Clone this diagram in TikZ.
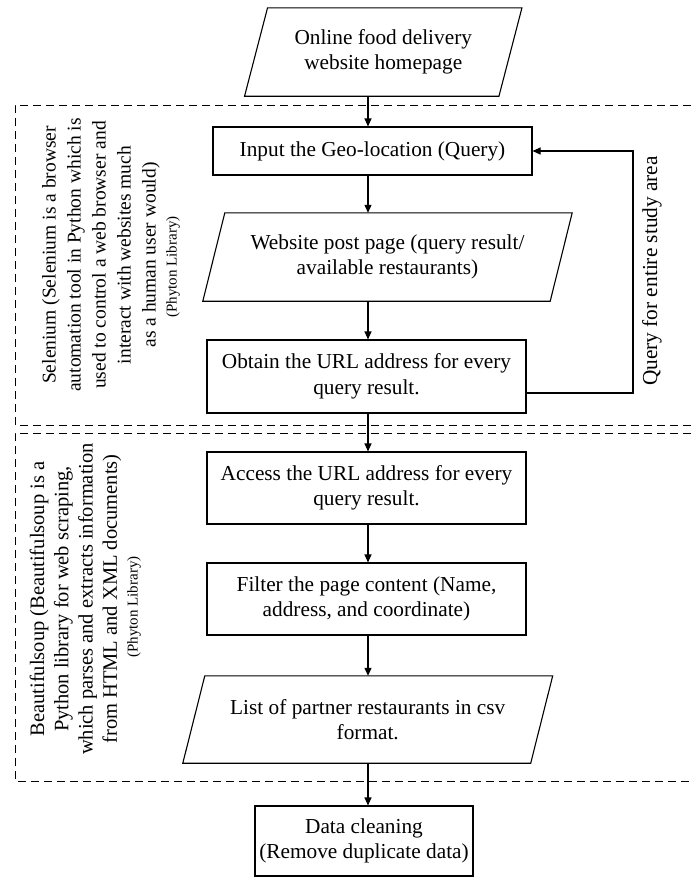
\documentclass[tikz,border=0pt]{standalone}
\usepackage{fontspec}
\setmainfont{Liberation Serif}
\usetikzlibrary{arrows.meta,calc}
\begin{document}
\begin{tikzpicture}[x=1pt,y=-1pt,
  box/.style={draw, line width=1.1pt, align=center, inner sep=0pt, font=\fontsize{21.3}{25.5}\selectfont, minimum width=319pt},
  iobox/.style={align=center, inner sep=0pt, font=\fontsize{21.3}{25.5}\selectfont},
  para/.style={line width=1.1pt, line join=miter},
  arr/.style={line width=1.1pt, -{Triangle[length=8pt,width=7pt]}},
  grp/.style={dash pattern=on 8pt off 5pt, line width=1pt},
  side/.style={rotate=90, align=center, inner sep=0pt, font=\fontsize{19.5}{25}\selectfont},
  sideb/.style={rotate=90, align=center, inner sep=0pt, font=\fontsize{20.5}{24.3}\selectfont},
  sidesmall/.style={rotate=90, inner sep=0pt, font=\fontsize{15}{18}\selectfont},
]
\useasboundingbox (0,0) rectangle (691,878);

% group frames
\draw[grp] (691,105) -- (15,105) -- (15,425) -- (691,425);
\draw[grp] (691,433) -- (15,433) -- (15,781) -- (691,781);

% side texts
\node[side] (sel) at (101,255) {Selenium (Selenium is a browser\\automation tool in Python which is\\used to control a web browser and\\interact with websites much\\as a human user would)};
\node[sidesmall] (sellib) at (173,267) {(Phyton Library)};
\node[sideb] (bs) at (75.5,599) {Beautifulsoup (Beautifulsoup is a\\Python library for web scraping,\\which parses and extracts information\\from HTML and XML documents)};
\node[sidesmall] (bslib) at (134,607) {(Phyton Library)};

% flow nodes
\node[iobox, minimum width=254pt, minimum height=88pt] (p1) at (383.25,52) {Online food delivery\\website homepage};
\draw[para] ([xshift=-11.5pt]p1.south west) -- ([xshift=-11.5pt]p1.south east) -- ([xshift=11.5pt]p1.north east) -- ([xshift=11.5pt]p1.north west) -- cycle;

\node[box, minimum height=48pt] (in1) at (372.5,151) {Input the Geo-location (Query)};

\node[iobox, minimum width=347pt, minimum height=88pt] (p2) at (387.5,257) {Website post page (query result/\\available restaurants)};
\draw[para] ([xshift=-11pt]p2.south west) -- ([xshift=-11pt]p2.south east) -- ([xshift=11pt]p2.north east) -- ([xshift=11pt]p2.north west) -- cycle;

\node[box, minimum height=73pt] (ob) at (366.5,376.5) {Obtain the URL address for every\\query result.};
\node[box, minimum height=72pt] (ac) at (366.5,488) {Access the URL address for every\\query result.};
\node[box, minimum height=72pt] (fi) at (366.5,599) {Filter the page content (Name,\\address, and coordinate)};

\node[iobox, minimum width=347.5pt, minimum height=87pt] (p3) at (367.75,719.5) {List of partner restaurants in csv\\format.};
\draw[para] ([xshift=-11pt]p3.south west) -- ([xshift=-11pt]p3.south east) -- ([xshift=11pt]p3.north east) -- ([xshift=11pt]p3.north west) -- cycle;

\node[box, minimum width=218pt, minimum height=70pt] (dc) at (364,841) {Data cleaning\\(Remove duplicate data)};

\node[iobox, rotate=90] (qlab) at (652,271) {Query for entire study area};

% connectors
\coordinate (ax) at (368,0);
\coordinate (fb) at (633,0);
\draw[arr] (p1.south -| ax) -- (in1.north -| ax);
\draw[arr] (in1.south -| ax) -- (p2.north -| ax);
\draw[arr] (p2.south -| ax) -- (ob.north -| ax);
\draw[arr] (ob.south -| ax) -- (ac.north -| ax);
\draw[arr] (ac.south -| ax) -- (fi.north -| ax);
\draw[arr] (fi.south -| ax) -- (p3.north -| ax);
\draw[arr] (p3.south -| ax) -- (dc.north -| ax);
\draw[arr] ([yshift=-16.5pt]ob.east) -| (fb |- in1.east) -- (in1.east);
\end{tikzpicture}
\end{document}
